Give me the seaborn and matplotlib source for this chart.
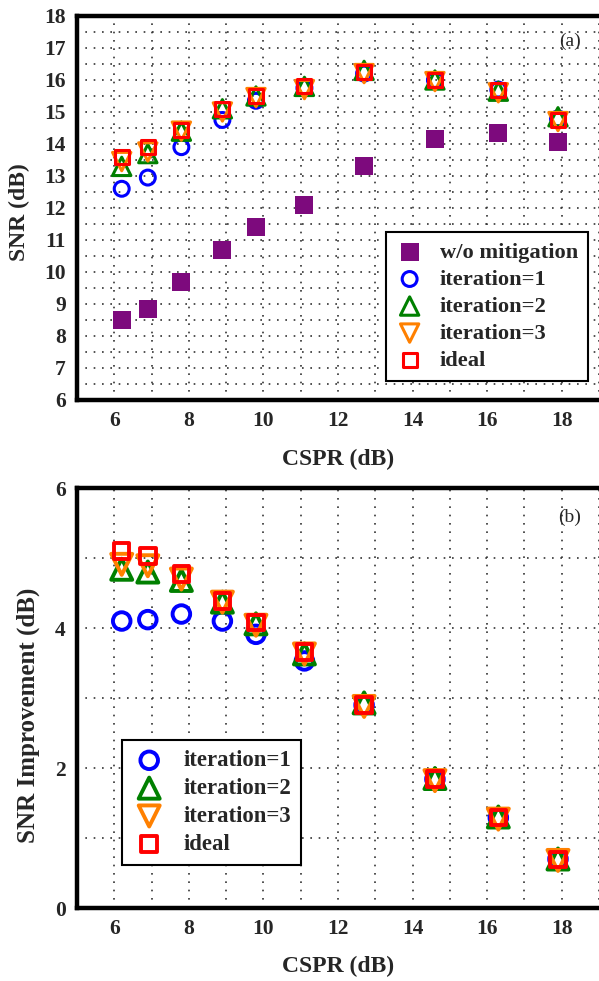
import matplotlib
matplotlib.use("Agg")
import matplotlib.pyplot as plt
from matplotlib.ticker import MultipleLocator
import seaborn as sns

# CSPR values (dB), shared by both panels
cspr = [6.2, 6.9, 7.8, 8.9, 9.8, 11.1, 12.7, 14.6, 16.3, 17.9]

# (a) SNR (dB)
snr_wo = [8.5, 8.85, 9.7, 10.7, 11.4, 12.1, 13.3, 14.15, 14.35, 14.05]
snr_it1 = [12.6, 12.95, 13.9, 14.75, 15.35, 15.75, 16.2, 16.0, 15.7, 14.8]
snr_it2 = [13.3, 13.7, 14.4, 15.1, 15.5, 15.8, 16.3, 16.0, 15.65, 14.85]
snr_it3 = [13.45, 13.75, 14.4, 15.0, 15.45, 15.7, 16.2, 15.95, 15.6, 14.7]
snr_ideal = [13.6, 13.9, 14.45, 15.1, 15.5, 15.8, 16.25, 16.0, 15.7, 14.75]

# (b) SNR improvement (dB)
imp_it1 = [4.1, 4.12, 4.2, 4.1, 3.91, 3.53, 2.9, 1.84, 1.29, 0.7]
imp_it2 = [4.84, 4.8, 4.68, 4.37, 4.06, 3.63, 2.93, 1.85, 1.3, 0.7]
imp_it3 = [4.91, 4.89, 4.7, 4.37, 4.04, 3.63, 2.88, 1.82, 1.27, 0.68]
imp_ideal = [5.1, 5.03, 4.77, 4.39, 4.08, 3.66, 2.9, 1.84, 1.29, 0.69]

sns.set_style("white")
plt.rcParams["font.family"] = ["Liberation Serif", "DejaVu Serif"]
plt.rcParams["font.weight"] = "bold"
plt.rcParams["axes.labelweight"] = "bold"

purple, blue, green, orange, red = "#7d0a7d", "#0000ff", "#008000", "#ff8000", "#ff0000"

fig = plt.figure(figsize=(5.99, 9.81), dpi=100)
ax1 = fig.add_axes([0.1285, 0.5923, 0.8715, 0.3914])
ax2 = fig.add_axes([0.1285, 0.0744, 0.8715, 0.4281])


def hollow(ax, y, marker, color, size, lw, label):
    sns.scatterplot(x=cspr, y=y, ax=ax, marker=marker, s=size, color=color,
                    facecolor="none", edgecolor=color, linewidth=lw,
                    label=label, zorder=3)


# panel (a)
sns.scatterplot(x=cspr, y=snr_wo, ax=ax1, marker="s", s=160, color=purple,
                edgecolor=purple, linewidth=0, label="w/o mitigation", zorder=3)
hollow(ax1, snr_it1, "o", blue, 115, 2.2, "iteration=1")
hollow(ax1, snr_it2, "^", green, 175, 2.2, "iteration=2")
hollow(ax1, snr_it3, "v", orange, 175, 2.2, "iteration=3")
hollow(ax1, snr_ideal, "s", red, 100, 2.2, "ideal")

# panel (b)
hollow(ax2, imp_it1, "o", blue, 160, 2.8, "iteration=1")
hollow(ax2, imp_it2, "^", green, 230, 2.8, "iteration=2")
hollow(ax2, imp_it3, "v", orange, 230, 2.8, "iteration=3")
hollow(ax2, imp_ideal, "s", red, 125, 2.8, "ideal")

grid_kw = dict(color="#333333", linestyle=(0, (1, 4)), linewidth=1.2)

for ax in (ax1, ax2):
    ax.set_xlim(5, 19)
    ax.xaxis.set_major_locator(MultipleLocator(2))
    ax.xaxis.set_minor_locator(MultipleLocator(1))
    ax.set_axisbelow(True)
    ax.grid(which="both", **grid_kw)
    for side in ("left", "bottom", "top"):
        ax.spines[side].set_linewidth(3.2)
        ax.spines[side].set_color("black")
    ax.spines["right"].set_visible(False)
    ax.tick_params(which="major", direction="in", length=6, width=3.5,
                   labelsize=15.5, pad=8, color="black")
    ax.tick_params(which="minor", direction="in", length=3.5, width=3.5,
                   color="black")
    ax.tick_params(top=False, right=False, which="both")
    ax.set_xlabel("CSPR (dB)", fontsize=17, fontweight="bold")

ax1.set_ylim(6, 18)
ax1.yaxis.set_major_locator(MultipleLocator(1))
ax1.yaxis.set_minor_locator(MultipleLocator(0.5))
ax1.set_ylabel("SNR (dB)", fontsize=17, fontweight="bold")
ax1.yaxis.set_label_coords(-0.09, 0.49)
ax1.xaxis.set_label_coords(0.5, -0.128)
ax1.text(0.965, 0.935, "(a)", transform=ax1.transAxes, ha="right", va="center",
         fontsize=14, fontweight="normal")

ax2.set_ylim(0, 6)
ax2.yaxis.set_major_locator(MultipleLocator(2))
ax2.yaxis.set_minor_locator(MultipleLocator(1))
ax2.set_ylabel("SNR Improvement (dB)", fontsize=18, fontweight="bold")
ax2.yaxis.set_label_coords(-0.071, 0.46)
ax2.xaxis.set_label_coords(0.5, -0.114)
ax2.text(0.965, 0.931, "(b)", transform=ax2.transAxes, ha="right", va="center",
         fontsize=14, fontweight="normal")

common = dict(loc="upper left", borderaxespad=0, fancybox=False, framealpha=1,
              edgecolor="black", scatterpoints=1, borderpad=0.45,
              handletextpad=0.75)
leg1 = ax1.legend(bbox_to_anchor=(0.592, 0.4375),
                  prop={"size": 16.2, "weight": "bold"},
                  handlelength=1.2, labelspacing=0.28, **common)
leg2 = ax2.legend(bbox_to_anchor=(0.086, 0.4),
                  prop={"size": 16.4, "weight": "bold"},
                  handlelength=1.5, labelspacing=0.3, **common)
for leg in (leg1, leg2):
    leg.get_frame().set_linewidth(1.5)

fig.savefig("out.png", dpi=100)
